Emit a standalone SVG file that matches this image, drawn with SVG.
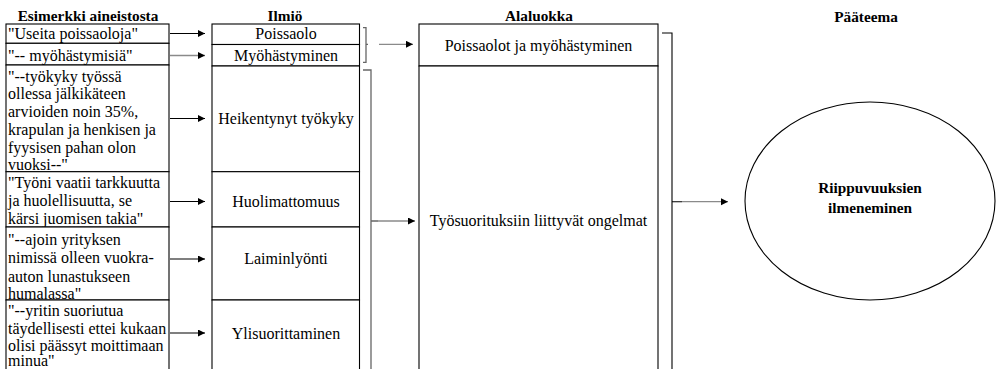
<svg xmlns="http://www.w3.org/2000/svg" width="1000" height="369" viewBox="0 0 1000 369" font-family="'Liberation Serif', 'Times New Roman', Tinos, 'DejaVu Serif', serif">
<style>
text{fill:#000}
.h{font-size:15.3px;font-weight:bold;text-anchor:middle}
.t{font-size:16px}
.c{font-size:16px;text-anchor:middle}
.b{font-size:15.3px;font-weight:bold;text-anchor:middle}
.box{fill:#fff;stroke:#000;stroke-width:1.1}
.a{stroke:#000;stroke-width:1.1;fill:none;marker-end:url(#ah)}
.g{stroke:#8a8a8a;stroke-width:1.3;fill:none;marker-end:url(#ah)}
.br{stroke:#000;stroke-width:1.1;fill:none}
.brg{stroke:#666;stroke-width:1.3;fill:none}
</style>
<defs>
<marker id="ah" markerWidth="8" markerHeight="8" refX="7" refY="3.5" orient="auto" markerUnits="userSpaceOnUse">
<path d="M0,0 L7,3.5 L0,7 Z" fill="#000"/>
</marker>
</defs>
<rect width="1000" height="369" fill="#fff"/>
<g id="headers">
<text class="h" x="88" y="20.5">Esimerkki aineistosta</text>
<text class="h" x="285" y="20.5">Ilmiö</text>
<text class="h" x="539" y="20.5">Alaluokka</text>
<text class="h" x="866" y="22">Pääteema</text>
</g>
<g id="ex1"><rect class="box" x="6" y="24" width="163" height="19.3"/><text class="t" x="8" y="38.5">"Useita poissaoloja"</text></g>
<g id="ex2"><rect class="box" x="6" y="43.3" width="163" height="21.7"/><text class="t" x="8" y="60.5">"-- myöhästymisiä"</text></g>
<g id="ex3"><rect class="box" x="6" y="65" width="163" height="106.7"/>
<text class="t" x="8" y="81.5">"--työkyky työssä</text>
<text class="t" x="8" y="99.3">ollessa jälkikäteen</text>
<text class="t" x="8" y="117.1">arvioiden noin 35%,</text>
<text class="t" x="8" y="134.9">krapulan ja henkisen ja</text>
<text class="t" x="8" y="152.7">fyysisen pahan olon</text>
<text class="t" x="8" y="170.3">vuoksi--"</text></g>
<g id="ex4"><rect class="box" x="6" y="171.7" width="163" height="55.3"/>
<text class="t" x="8" y="187.5">"Työni vaatii tarkkuutta</text>
<text class="t" x="8" y="205.5">ja huolellisuutta, se</text>
<text class="t" x="8" y="223.5">kärsi juomisen takia"</text></g>
<g id="ex5"><rect class="box" x="6" y="227" width="163" height="73"/>
<text class="t" x="8" y="245">"--ajoin yrityksen</text>
<text class="t" x="8" y="263">nimissä olleen vuokra-</text>
<text class="t" x="8" y="281.5">auton lunastukseen</text>
<text class="t" x="8" y="299">humalassa"</text></g>
<g id="ex6"><rect class="box" x="6" y="300" width="163" height="75"/>
<text class="t" x="8" y="316">"--yritin suoriutua</text>
<text class="t" x="8" y="333.5">täydellisesti ettei kukaan</text>
<text class="t" x="8" y="350.5">olisi päässyt moittimaan</text>
<text class="t" x="8" y="366">minua"</text></g>
<g id="il1"><rect class="box" x="212" y="24" width="147.5" height="20.5"/><text class="c" x="286" y="38.5">Poissaolo</text></g>
<g id="il2"><rect class="box" x="212" y="44.5" width="147.5" height="21.5"/><text class="c" x="286" y="60.5">Myöhästyminen</text></g>
<g id="il3"><rect class="box" x="212" y="66" width="147.5" height="105.7"/><text class="c" x="286" y="124">Heikentynyt työkyky</text></g>
<g id="il4"><rect class="box" x="212" y="171.7" width="147.5" height="55.3"/><text class="c" x="286" y="206.5">Huolimattomuus</text></g>
<g id="il5"><rect class="box" x="212" y="227" width="147.5" height="73"/><text class="c" x="286" y="264">Laiminlyönti</text></g>
<g id="il6"><rect class="box" x="212" y="300" width="147.5" height="75"/><text class="c" x="286" y="339">Ylisuorittaminen</text></g>
<g id="al1"><rect class="box" x="419" y="24" width="239" height="42"/><text class="c" x="538.5" y="50.5" font-size="16.6">Poissaolot ja myöhästyminen</text></g>
<g id="al2"><rect class="box" x="419" y="66" width="239" height="309"/><text class="c" x="538.5" y="226">Työsuorituksiin liittyvät ongelmat</text></g>
<g id="pt"><ellipse cx="870" cy="201" rx="125" ry="99" fill="#fff" stroke="#000" stroke-width="1.1"/>
<text class="b" x="870" y="193">Riippuvuuksien</text>
<text class="b" x="870" y="213">ilmeneminen</text></g>
<g id="connectors">
<line class="a" x1="170" y1="33.5" x2="205" y2="33.5"/>
<line class="g" x1="170" y1="55.5" x2="205" y2="55.5"/>
<line class="a" x1="170" y1="118.5" x2="205" y2="118.5"/>
<line class="a" x1="170" y1="201.5" x2="205" y2="201.5"/>
<line class="a" x1="170" y1="259" x2="205" y2="259"/>
<line class="a" x1="170" y1="333" x2="205" y2="333"/>
<path class="brg" d="M363,27.7 H366 V62.3 H363 M366,44.3 H368"/>
<line class="g" x1="379" y1="44.3" x2="413" y2="44.3"/>
<path class="brg" d="M363,70 H371 V370 M371,221 H378"/>
<line class="g" x1="378" y1="221" x2="415" y2="221"/>
<path class="br" d="M662,33 H672 V370 M672,201.7 H682"/>
<line class="g" x1="682" y1="201.7" x2="728" y2="201.7"/>
</g>
</svg>
